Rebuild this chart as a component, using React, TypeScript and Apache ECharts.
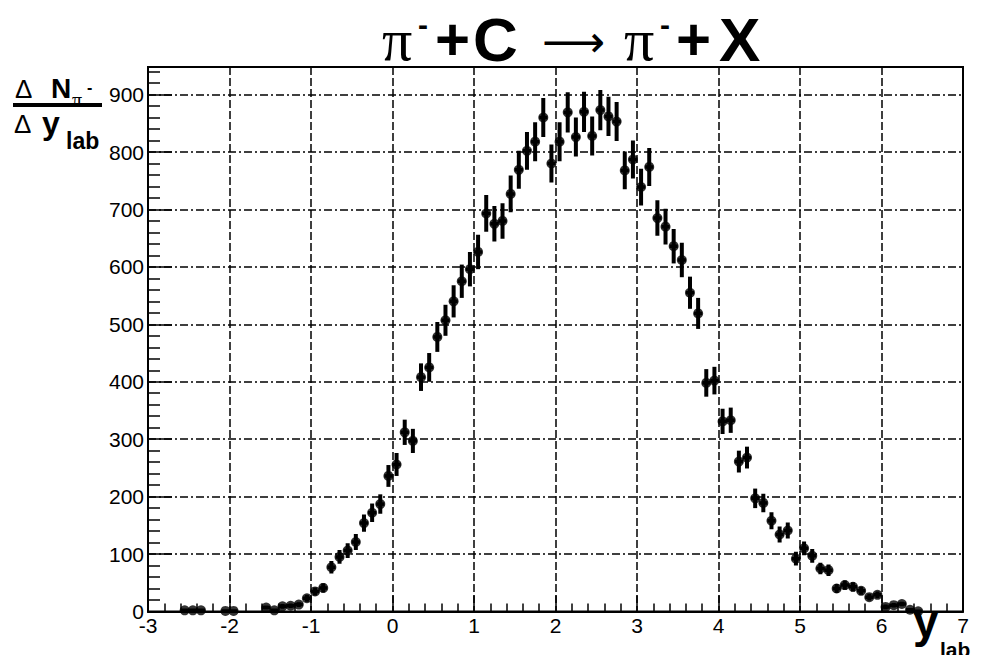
import React, { useEffect, useRef } from "react";
import * as echarts from "echarts";

// Rapidity bin centres (y_lab), bin contents and their statistical errors
const binCenters = [
  -2.55, -2.45, -2.35, -2.05, -1.95, -1.55, -1.45, -1.35, -1.25, -1.15,
  -1.05, -0.95, -0.85, -0.75, -0.65, -0.55, -0.45, -0.35, -0.25, -0.15,
  -0.05, 0.05, 0.15, 0.25, 0.35, 0.45, 0.55, 0.65, 0.75, 0.85,
  0.95, 1.05, 1.15, 1.25, 1.35, 1.45, 1.55, 1.65, 1.75, 1.85,
  1.95, 2.05, 2.15, 2.25, 2.35, 2.45, 2.55, 2.65, 2.75, 2.85,
  2.95, 3.05, 3.15, 3.25, 3.35, 3.45, 3.55, 3.65, 3.75, 3.85,
  3.95, 4.05, 4.15, 4.25, 4.35, 4.45, 4.55, 4.65, 4.75, 4.85,
  4.95, 5.05, 5.15, 5.25, 5.35, 5.45, 5.55, 5.65, 5.75, 5.85,
  5.95, 6.05, 6.15, 6.25, 6.35, 6.45,
];
const counts = [
  2, 2, 2, 1, 1, 7, 2, 9, 10, 12,
  23, 35, 41, 77, 95, 106, 121, 154, 172, 187,
  236, 256, 312, 297, 408, 425, 478, 507, 540, 575,
  596, 626, 693, 675, 680, 727, 769, 802, 818, 860,
  780, 818, 869, 826, 870, 828, 873, 862, 853, 768,
  787, 739, 774, 685, 670, 636, 612, 555, 519, 398,
  402, 331, 333, 261, 268, 197, 189, 158, 134, 141,
  92, 110, 97, 75, 72, 40, 46, 43, 36, 25,
  29, 8, 11, 13, 3, 0.5,
];
const errors = [
  2, 2, 2, 1, 1, 3, 2, 4, 4, 4,
  6, 7, 8, 11, 12, 13, 14, 15, 16, 17,
  19, 20, 22, 21, 24, 25, 26, 27, 28, 29,
  30, 30, 32, 31, 31, 32, 33, 33, 34, 34,
  33, 34, 35, 34, 35, 34, 35, 34, 34, 33,
  33, 32, 33, 31, 31, 30, 30, 28, 27, 24,
  24, 22, 22, 19, 19, 17, 16, 15, 14, 14,
  12, 12, 12, 10, 10, 8, 8, 8, 7, 6,
  6, 4, 4, 4, 2, 1,
];
const binHalfWidth = 0.05;
const xTicks = { min: -3, max: 7, interval: 1 };
const yTicks = { min: 0, max: 948, interval: 100 };

const FONT = "'Liberation Sans', Arial, Helvetica, sans-serif";
const SERIF = "'Liberation Serif', 'Times New Roman', serif";

export default function App() {
  const ref = useRef<HTMLDivElement>(null);

  useEffect(() => {
    if (!ref.current) return;
    const chart = echarts.init(ref.current, undefined, { renderer: "svg" });
    const data = binCenters.map((x, i) => [x, counts[i], errors[i]]);

    const txt = (text: string, x: number, y: number, font: string) => ({
      type: "text",
      x,
      y,
      silent: true,
      style: {
        text,
        font,
        fill: "#000",
        textAlign: "left",
        align: "left",
        textVerticalAlign: "middle",
        verticalAlign: "middle",
      },
    });

    const option: any = {
      animation: false,
      backgroundColor: "#fff",
      grid: {
        left: 148,
        right: 18,
        top: 67,
        bottom: 51.5,
        show: true,
        borderColor: "#000",
        borderWidth: 2,
        backgroundColor: "transparent",
      },
      xAxis: {
        type: "value",
        min: xTicks.min,
        max: xTicks.max,
        interval: xTicks.interval,
        axisLine: { show: true, onZero: false, lineStyle: { color: "#000", width: 2 } },
        axisTick: { show: true, inside: true, length: 16, lineStyle: { color: "#000", width: 1.5 } },
        minorTick: { show: true, splitNumber: 5, length: 8, lineStyle: { color: "#000", width: 1.5 } },
        splitLine: { show: true, lineStyle: { color: "#000", width: 1.5, type: [8, 3] } },
        axisLabel: { color: "#000", fontSize: 21, lineHeight: 14, fontFamily: FONT, margin: 7 },
      },
      yAxis: {
        type: "value",
        min: yTicks.min,
        max: yTicks.max,
        interval: yTicks.interval,
        axisLine: { show: true, onZero: false, lineStyle: { color: "#000", width: 2 } },
        axisTick: { show: true, inside: true, length: 24, lineStyle: { color: "#000", width: 1.5 } },
        minorTick: { show: true, splitNumber: 5, length: 12, lineStyle: { color: "#000", width: 1.5 } },
        splitLine: { show: true, lineStyle: { color: "#000", width: 1.5, type: [8, 3, 2, 3] } },
        axisLabel: {
          color: "#000",
          fontSize: 21,
          lineHeight: 14,
          fontFamily: FONT,
          margin: 4,
          showMaxLabel: false,
        },
      },
      series: [
        {
          type: "custom",
          clip: true,
          data,
          encode: { x: 0, y: 1 },
          renderItem: (params: any, api: any) => {
            const x = api.value(0);
            const y = api.value(1);
            const e = api.value(2);
            const top = api.coord([x, y + e]);
            const bot = api.coord([x, Math.max(0, y - e)]);
            const l = api.coord([x - binHalfWidth, y]);
            const r = api.coord([x + binHalfWidth, y]);
            return {
              type: "group",
              children: [
                {
                  type: "line",
                  shape: { x1: top[0], y1: top[1], x2: bot[0], y2: bot[1] },
                  style: { stroke: "#000", lineWidth: 4 },
                },
                {
                  type: "line",
                  shape: { x1: l[0], y1: l[1], x2: r[0], y2: r[1] },
                  style: { stroke: "#000", lineWidth: 3.5 },
                },
              ],
            };
          },
          z: 3,
        },
        {
          type: "scatter",
          data: data.map((d) => [d[0], d[1]]),
          symbol: "circle",
          symbolSize: 10,
          itemStyle: { color: "#000" },
          clip: true,
          z: 4,
        },
      ],
      graphic: [
        // title  pi- + C -> pi- + X
        txt("π", 382, 40, `60px ${SERIF}`),
        txt("-", 418, 24, `bold 30px ${FONT}`),
        txt("+", 435, 39, `bold 60px ${FONT}`),
        txt("C", 473, 39, `bold 62px ${FONT}`),
        txt("⟶", 542, 41, `44px 'DejaVu Sans', sans-serif`),
        txt("π", 624, 40, `60px ${SERIF}`),
        txt("-", 660, 24, `bold 30px ${FONT}`),
        txt("+", 676, 39, `bold 60px ${FONT}`),
        txt("X", 719, 39, `bold 62px ${FONT}`),
        // y-axis title  ΔN_pi- / Δy_lab
        txt("Δ", 15, 89, `26px ${FONT}`),
        txt("N", 51, 88, `bold 28px ${FONT}`),
        txt("π", 72, 100, `20px ${SERIF}`),
        txt("-", 87, 87, `bold 16px ${FONT}`),
        {
          type: "rect",
          silent: true,
          shape: { x: 13, y: 103, width: 89, height: 4 },
          style: { fill: "#000" },
        },
        txt("Δ", 14, 124, `26px ${FONT}`),
        txt("y", 42, 123, `bold 32px ${FONT}`),
        txt("lab", 66, 141, `bold 23px ${FONT}`),
        // x-axis title  y_lab
        txt("y", 913, 621, `bold 46px ${FONT}`),
        txt("lab", 940, 649, `bold 21px ${FONT}`),
      ],
    };

    chart.setOption(option);
    return () => chart.dispose();
  }, []);

  return <div ref={ref} style={{ width: 981, height: 663, margin: -8 }} />;
}
